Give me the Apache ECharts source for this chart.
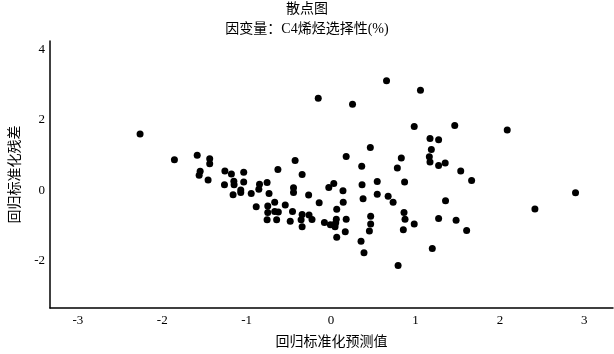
<!DOCTYPE html>
<html>
<head>
<meta charset="utf-8">
<script src="https://cdn.jsdelivr.net/npm/echarts@6/dist/echarts.min.js"></script>
<style>
html,body{margin:0;padding:0;background:#fff;}
#c{width:614px;height:354px;}
</style>
</head>
<body>
<div id="c"></div>
<script>
// Data
var chartTitle = '散点图';
var chartSubtitle = '因变量：C4烯烃选择性(%)';
var xAxisName = '回归标准化预测值';
var yAxisName = '回归标准化残差';
var xTicks = [-3, -2, -1, 0, 1, 2, 3];
var yTicks = [-2, 0, 2, 4];

var predX = [
 -2.263,-1.856,-1.586,-1.438,-1.438,-1.551,-1.563,-1.457,-1.258,-1.181,
 -1.035,-1.263,-1.152,-1.149,-1.035,-1.070,-1.070,-1.161,-0.946,-0.848,
 -0.856,-0.758,-0.735,-0.630,-0.426,-0.343,-0.445,-0.445,-0.266,-0.887,
 -0.750,-0.668,-0.543,-0.750,-0.668,-0.625,-0.758,-0.645,-0.484,-0.457,
 -0.343,-0.261,-0.355,-0.226,-0.343,-0.141,-0.027,0.032,0.141,0.144,
 0.067,0.179,0.363,0.465,0.785,0.832,0.367,0.379,0.547,0.547,
 0.676,0.735,0.179,0.062,0.055,0.047,-0.008,-0.079,0.168,0.067,
 0.469,0.469,0.454,0.355,0.390,0.794,-0.152,0.254,0.657,1.059,
 0.985,1.465,2.087,1.172,1.274,1.188,1.164,1.172,1.274,1.352,
 1.536,0.871,1.665,1.356,2.896,2.415,0.864,0.876,0.985,1.274,
 1.481,1.606,0.856,1.199
];
var residY = [
 1.600,0.867,0.997,0.895,0.754,0.537,0.424,0.291,0.545,0.460,
 0.508,0.150,0.254,0.150,0.234,0.000,-0.065,-0.133,-0.093,0.169,
 0.028,0.218,-0.093,0.585,0.847,0.444,0.065,-0.065,-0.141,-0.472,
 -0.452,-0.347,-0.424,-0.641,-0.613,-0.621,-0.847,-0.847,-0.884,-0.613,
 -0.698,-0.706,-0.847,-0.839,-1.045,-0.359,0.076,0.189,-0.020,-0.347,
 -0.545,0.960,0.678,1.215,0.630,0.912,0.150,-0.246,0.246,-0.121,
 -0.178,-0.347,-0.828,-0.828,-0.932,-1.045,-0.989,-0.924,-1.186,-1.347,
 -0.743,-0.969,-1.167,-1.460,-1.788,-2.147,2.619,2.449,3.116,2.845,
 1.816,1.845,1.715,1.469,1.432,1.158,0.952,0.799,0.698,0.771,
 0.545,0.234,0.274,-0.302,-0.076,-0.537,-0.641,-0.828,-0.969,-0.811,
 -0.856,-1.150,-1.130,-1.667
];

var points = predX.map(function (x, i) { return [x, residY[i]]; });

var serifFont = '"Liberation Serif", "Times New Roman", "Noto Sans CJK SC", serif';

var chart = echarts.init(document.getElementById('c'), null, {renderer: 'canvas'});
chart.setOption({
  animation: false,
  backgroundColor: '#ffffff',
  title: [
    {
      text: chartTitle,
      left: 'center',
      top: 2,
      padding: 0,
      textStyle: {fontFamily: serifFont, fontSize: 14, fontWeight: 'normal', color: '#000'}
    },
    {
      text: chartSubtitle,
      left: 'center',
      top: 22,
      padding: 0,
      textStyle: {fontFamily: serifFont, fontSize: 14, fontWeight: 'normal', color: '#000'}
    }
  ],
  grid: {left: 45, right: 1, top: 41, bottom: 44, containLabel: false},
  xAxis: {
    type: 'value',
    min: -3.33,
    max: 3.34,
    name: xAxisName,
    nameLocation: 'middle',
    nameGap: 27,
    nameTextStyle: {fontFamily: serifFont, fontSize: 14, color: '#000'},
    axisLine: {onZero: false, lineStyle: {color: '#000', width: 1.5}},
    axisTick: {show: false},
    splitLine: {show: false},
    axisLabel: {
      customValues: xTicks,
      fontFamily: serifFont, fontSize: 13, color: '#000', margin: 6,
      showMinLabel: true, showMaxLabel: true
    }
  },
  yAxis: {
    type: 'value',
    min: -3.36,
    max: 4.25,
    name: yAxisName,
    nameLocation: 'middle',
    nameGap: 28,
    nameRotate: 90,
    nameTextStyle: {fontFamily: serifFont, fontSize: 14, color: '#000'},
    axisLine: {show: true, onZero: false, lineStyle: {color: '#000', width: 1.5}},
    axisTick: {show: false},
    splitLine: {show: false},
    axisLabel: {
      customValues: yTicks,
      fontFamily: serifFont, fontSize: 13, color: '#000', margin: 5
    }
  },
  series: [{
    type: 'scatter',
    data: points,
    symbol: 'circle',
    symbolSize: 7,
    itemStyle: {color: '#000', opacity: 1},
    silent: true
  }]
});
</script>
</body>
</html>
